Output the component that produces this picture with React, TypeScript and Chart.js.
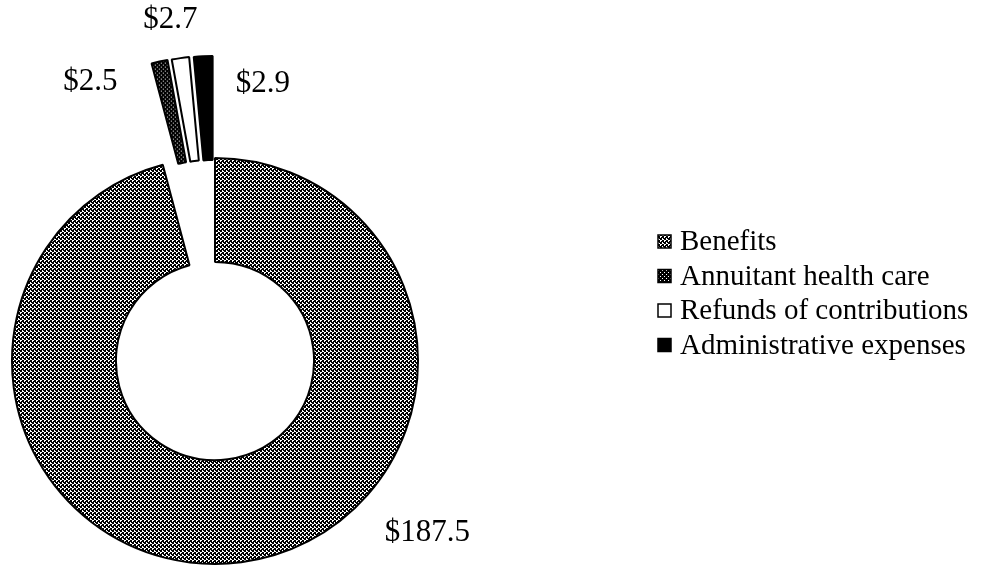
import React, { useEffect, useRef } from "react";
import { Chart, registerables } from "chart.js";

Chart.register(...registerables);

const categories = ["Benefits", "Annuitant health care", "Refunds of contributions", "Administrative expenses"];
const values = [187.5, 2.5, 2.7, 2.9];
const valueLabels = ["$187.5", "$2.5", "$2.7", "$2.9"];

// layout (not data): how far each slice is pulled out, and label nudges
const explode = [0, 102, 102, 102];
const explodeAngleFactor = 0.5;
const labelNudge: [number, number][] = [[186, -29], [-58, 19], [-3, -39], [62, 28]];

function makePattern(kind: string): CanvasPattern {
  const c = document.createElement("canvas");
  c.width = 4;
  c.height = 4;
  const g = c.getContext("2d")!;
  g.fillStyle = "#000";
  g.fillRect(0, 0, 4, 4);
  g.fillStyle = "#fff";
  if (kind === "benefits") {
    g.fillRect(0, 0, 2, 1);
    g.fillRect(0, 1, 1, 1);
    g.fillRect(2, 2, 1, 2);
    g.fillRect(3, 3, 1, 1);
  } else {
    g.fillRect(0, 0, 1, 1);
    g.fillRect(2, 2, 1, 1);
  }
  return g.createPattern(c, "repeat")!;
}

const FONT = "'Liberation Serif', 'Times New Roman', serif";

function explodeShift(arc: any, i: number): [number, number] {
  const e = explode[i];
  if (!e) return [0, 0];
  const mid = (arc.startAngle + arc.endAngle) / 2;
  const top = -Math.PI / 2 + 2 * Math.PI * Math.round((mid + Math.PI / 2) / (2 * Math.PI));
  const dir = top + (mid - top) * explodeAngleFactor;
  return [Math.cos(dir) * e, Math.sin(dir) * e];
}

const explodePlugin = {
  id: "explodeSlices",
  beforeDatasetDraw(chart: any, args: any) {
    const ctx = chart.ctx;
    const meta = args.meta;
    meta.data.forEach((arc: any, i: number) => {
      const [dx, dy] = explodeShift(arc, i);
      ctx.save();
      ctx.translate(dx, dy);
      arc.draw(ctx, chart.chartArea);
      ctx.restore();
    });
    return false;
  },
};

const valueLabelPlugin = {
  id: "valueLabels",
  afterDatasetsDraw(chart: any) {
    const ctx = chart.ctx;
    const meta = chart.getDatasetMeta(0);
    ctx.save();
    ctx.font = `31px ${FONT}`;
    ctx.fillStyle = "#000";
    ctx.textAlign = "center";
    ctx.textBaseline = "middle";
    meta.data.forEach((arc: any, i: number) => {
      const p = arc.getProps(["x", "y", "startAngle", "endAngle", "outerRadius"], true);
      const mid = (p.startAngle + p.endAngle) / 2;
      const r = p.outerRadius + explode[i];
      const x = p.x + Math.cos(mid) * r + labelNudge[i][0];
      const y = p.y + Math.sin(mid) * r + labelNudge[i][1];
      ctx.fillText(valueLabels[i], x, y);
    });
    ctx.restore();
  },
};

const legendPlugin = {
  id: "sideLegend",
  afterDraw(chart: any) {
    const ctx = chart.ctx;
    const ds = chart.data.datasets[0];
    const labels = chart.data.labels as string[];
    const boxX = 658;
    const textX = 680;
    const firstY = 241.5;
    const step = 34.5;
    const box = 13;
    ctx.save();
    ctx.font = `29px ${FONT}`;
    ctx.textAlign = "left";
    ctx.textBaseline = "middle";
    labels.forEach((lab, i) => {
      const cy = firstY + i * step;
      ctx.fillStyle = ds.backgroundColor[i];
      ctx.fillRect(boxX, cy - box / 2, box, box);
      ctx.strokeStyle = "#000";
      ctx.lineWidth = 1.5;
      ctx.strokeRect(boxX, cy - box / 2, box, box);
      ctx.fillStyle = "#000";
      ctx.fillText(lab, textX, cy + 1);
    });
    ctx.restore();
  },
};

export default function App() {
  const ref = useRef<HTMLCanvasElement>(null);
  useEffect(() => {
    const canvas = ref.current!;
    const colors = [makePattern("benefits"), makePattern("annuitant"), "#ffffff", "#000000"];
    const chart = new Chart(canvas, {
      type: "doughnut",
      data: {
        labels: categories,
        datasets: [
          {
            data: values,
            backgroundColor: colors as any,
            borderColor: "#000",
            borderWidth: 2,
          },
        ],
      },
      options: {
        responsive: false,
        animation: false,
        radius: 203,
        cutout: "48.8%",
        rotation: 0,
        layout: { padding: { left: 0, right: 558, top: 155, bottom: 0 } },
        plugins: {
          legend: { display: false },
          tooltip: { enabled: false },
          title: { display: false },
        },
        events: [],
      } as any,
      plugins: [explodePlugin, valueLabelPlugin, legendPlugin],
    });
    return () => chart.destroy();
  }, []);
  return (
    <div style={{ position: "fixed", left: 0, top: 0, width: 988, height: 567, background: "#fff" }}>
      <canvas ref={ref} width={988} height={567} style={{ display: "block" }} />
    </div>
  );
}
